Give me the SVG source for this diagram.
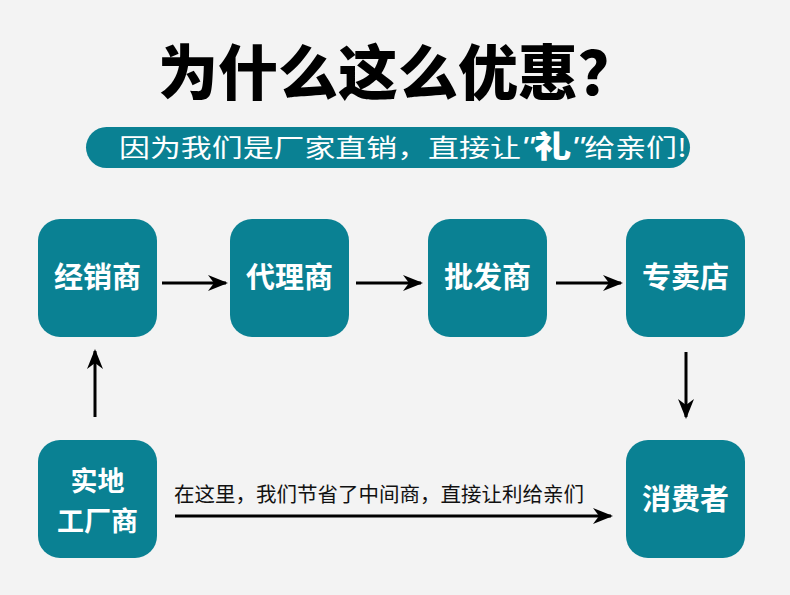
<svg xmlns="http://www.w3.org/2000/svg" width="790" height="595" viewBox="0 0 790 595">
<style>
.node rect{fill:#0a8193;}
.node text{fill:#fff;font-family:"Noto Sans CJK SC","Noto Sans",sans-serif;font-weight:700;font-size:29px;text-anchor:middle;}
.node text.two{font-size:27px;}
.conn line{stroke:#000;stroke-width:3;}
.title{font-family:"Noto Sans CJK SC",sans-serif;font-weight:900;font-size:60px;text-anchor:middle;fill:#000;}
.banner{font-family:"Noto Sans CJK SC",sans-serif;font-size:25px;fill:#fff;}
.lbl{font-family:"Noto Sans CJK SC",sans-serif;font-size:20.5px;fill:#111;}
</style>
<defs>
<marker id="ah" viewBox="0 0 20 16" refX="18" refY="8" markerWidth="20" markerHeight="16" markerUnits="userSpaceOnUse" orient="auto">
<path d="M0,0 L20,8 L0,16 L6,8 Z" fill="#000"/>
</marker>
</defs>
<rect width="790" height="595" fill="#f3f3f3"/>
<text class="title" x="398" y="95">为什么这么优惠？</text>
<g id="banner">
<rect x="86" y="127" width="604" height="41" rx="20.5" fill="#0a8193"/>
<text class="banner" x="119" y="157" textLength="568" lengthAdjust="spacingAndGlyphs">因为我们是厂家直销，直接让<tspan font-style="italic" font-family="Liberation Sans" font-size="30">"</tspan><tspan font-weight="900" font-size="30">礼</tspan><tspan font-style="italic" font-family="Liberation Sans" font-size="30">"</tspan>给亲们!</text>
</g>
<g id="n1" class="node"><rect x="38" y="219" width="119" height="118" rx="22"/><text x="97.5" y="288">经销商</text></g>
<g id="n2" class="node"><rect x="230" y="219" width="119" height="118" rx="22"/><text x="289.5" y="288">代理商</text></g>
<g id="n3" class="node"><rect x="428" y="219" width="119" height="118" rx="22"/><text x="487.5" y="288">批发商</text></g>
<g id="n4" class="node"><rect x="626" y="219" width="119" height="118" rx="22"/><text x="685.5" y="288">专卖店</text></g>
<g id="n5" class="node"><rect x="38" y="440" width="119" height="118" rx="22"/><text class="two" x="97.5" y="491">实地</text><text class="two" x="97.5" y="531">工厂商</text></g>
<g id="n6" class="node"><rect x="626" y="440" width="119" height="118" rx="22"/><text x="685.5" y="510">消费者</text></g>
<g id="connectors" class="conn">
<line x1="162" y1="283" x2="226" y2="283" marker-end="url(#ah)"/>
<line x1="356" y1="283" x2="421" y2="283" marker-end="url(#ah)"/>
<line x1="556" y1="283" x2="621" y2="283" marker-end="url(#ah)"/>
<line x1="95" y1="417" x2="95" y2="351" marker-end="url(#ah)"/>
<line x1="686" y1="352" x2="686" y2="417" marker-end="url(#ah)"/>
<line x1="175" y1="516" x2="611" y2="516" marker-end="url(#ah)"/>
<text class="lbl" x="174" y="502">在这里，我们节省了中间商，直接让利给亲们</text>
</g>
</svg>
